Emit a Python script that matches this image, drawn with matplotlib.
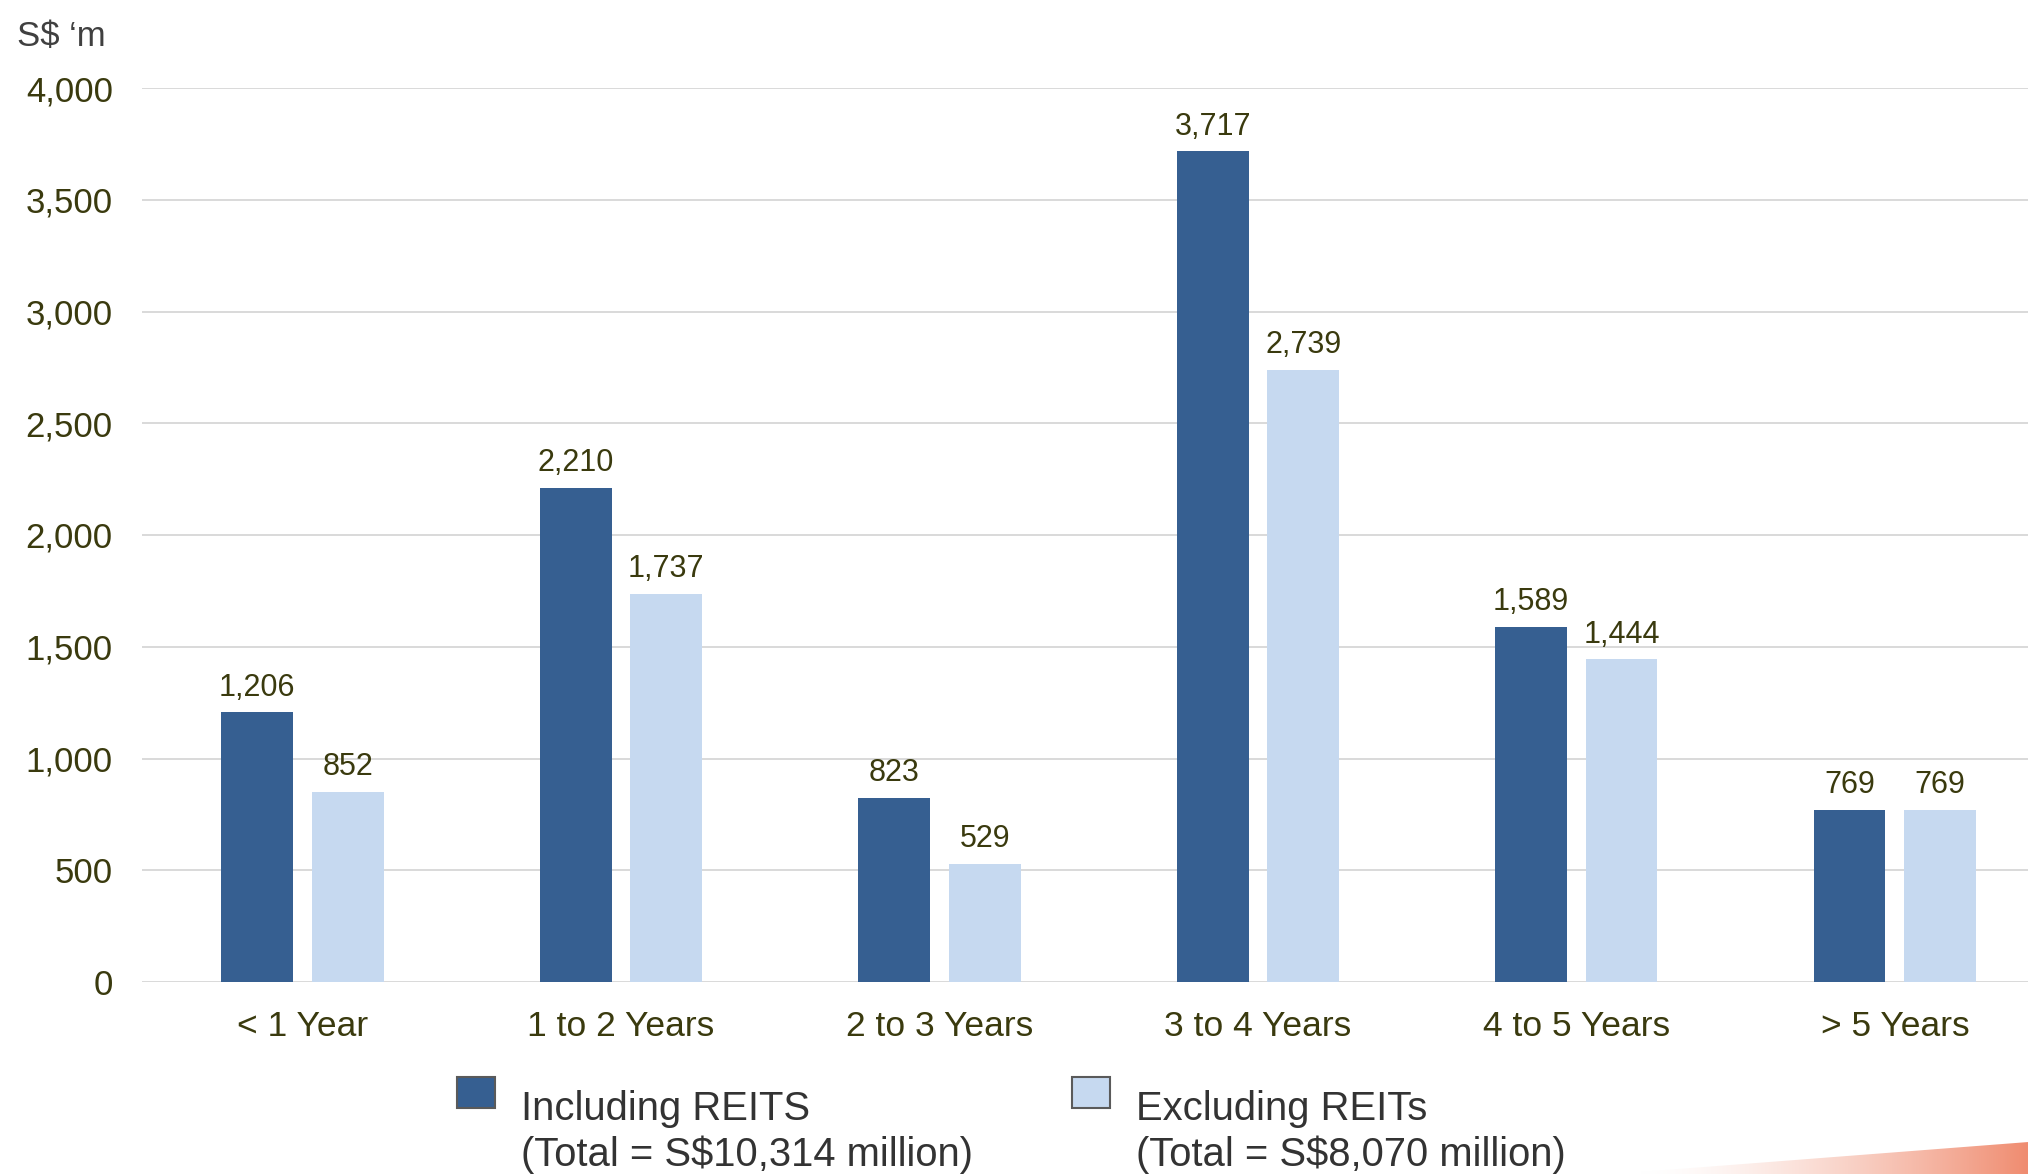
import matplotlib.pyplot as plt
import numpy as np
from matplotlib.patches import Rectangle, Polygon

plt.rcParams['font.family'] = ['Liberation Sans', 'DejaVu Sans']

# data
categories = ['< 1 Year', '1 to 2 Years', '2 to 3 Years', '3 to 4 Years', '4 to 5 Years', '> 5 Years']
incl_reits = [1206, 2210, 823, 3717, 1589, 769]
excl_reits = [852, 1737, 529, 2739, 1444, 769]
y_ticks = [0, 500, 1000, 1500, 2000, 2500, 3000, 3500, 4000]
legend_labels = [('Including REITS', '(Total = S$10,314 million)'),
                 ('Excluding REITs', '(Total = S$8,070 million)')]

dark = '#365F91'
light = '#C6D9F0'
olive = '#3A3A0E'
grid_c = '#D9D9D9'

fig = plt.figure(figsize=(20.28, 11.74), dpi=100)
ax = fig.add_axes([142 / 2028, 1 - 982 / 1174, 1 - 142 / 2028, (982 - 88) / 1174])

x = np.arange(len(categories))
w = 0.225
off = 0.142
b1 = ax.bar(x - off, incl_reits, width=w, color=dark, zorder=3)
b2 = ax.bar(x + off, excl_reits, width=w, color=light, zorder=3)

# value labels above bars
for bars in (b1, b2):
    for bar in bars:
        h = bar.get_height()
        ax.annotate(f'{h:,}', xy=(bar.get_x() + bar.get_width() / 2, h),
                    xytext=(0, 7), textcoords='offset points',
                    ha='center', va='bottom', fontsize=22, color=olive)

ax.set_xlim(-0.504, 5.418)
ax.set_ylim(0, 4000)
ax.set_yticks(y_ticks)
ax.set_yticklabels([f'{v:,}' for v in y_ticks])
ax.set_xticks(x)
ax.set_xticklabels(categories)
ax.tick_params(axis='y', length=0, pad=21, labelsize=25, labelcolor=olive)
ax.tick_params(axis='x', length=0, pad=20, labelsize=25.5, labelcolor=olive)
ax.yaxis.grid(True, color=grid_c, linewidth=1.4, zorder=0)
ax.set_axisbelow(True)
for s in ax.spines.values():
    s.set_visible(False)

fig.text(17 / 2028, 1 - 46 / 1174, 'S$ \u2018m', fontsize=25, color='#404040',
         ha='left', va='baseline')

# legend drawn by hand
for (l1, l2), col, rx, tx in zip(legend_labels, [dark, light],
                                 [457 / 2028, 1072 / 2028], [521 / 2028, 1136 / 2028]):
    fig.patches.append(Rectangle((rx, 1 - 1108 / 1174), 38 / 2028, 31 / 1174,
                                 transform=fig.transFigure, facecolor=col,
                                 edgecolor='#5A5A5A', linewidth=1.5))
    fig.text(tx, 1 - 1120 / 1174, l1, fontsize=28.8, color='#333333', ha='left', va='baseline')
    fig.text(tx, 1 - 1166 / 1174, l2, fontsize=28.8, color='#333333', ha='left', va='baseline')

# orange swoosh bottom right
sax = fig.add_axes([1640 / 2028, 0, 388 / 2028, 34 / 1174])
sax.set_xlim(0, 1)
sax.set_ylim(0, 1)
sax.axis('off')
grad = np.linspace(0, 1, 256).reshape(1, -1) ** 1.5
c0 = np.array([1.0, 1.0, 1.0])
c1 = np.array([0.94, 0.55, 0.44])
img = c0 + (c1 - c0) * grad[..., None]
im = sax.imshow(img, extent=[0, 1, 0, 1], aspect='auto')
poly = Polygon([[0, 0], [0, 0.06], [1, 0.94], [1, 0]], closed=True, transform=sax.transData)
im.set_clip_path(poly)

fig.savefig('out.png', dpi=100, facecolor='white')
